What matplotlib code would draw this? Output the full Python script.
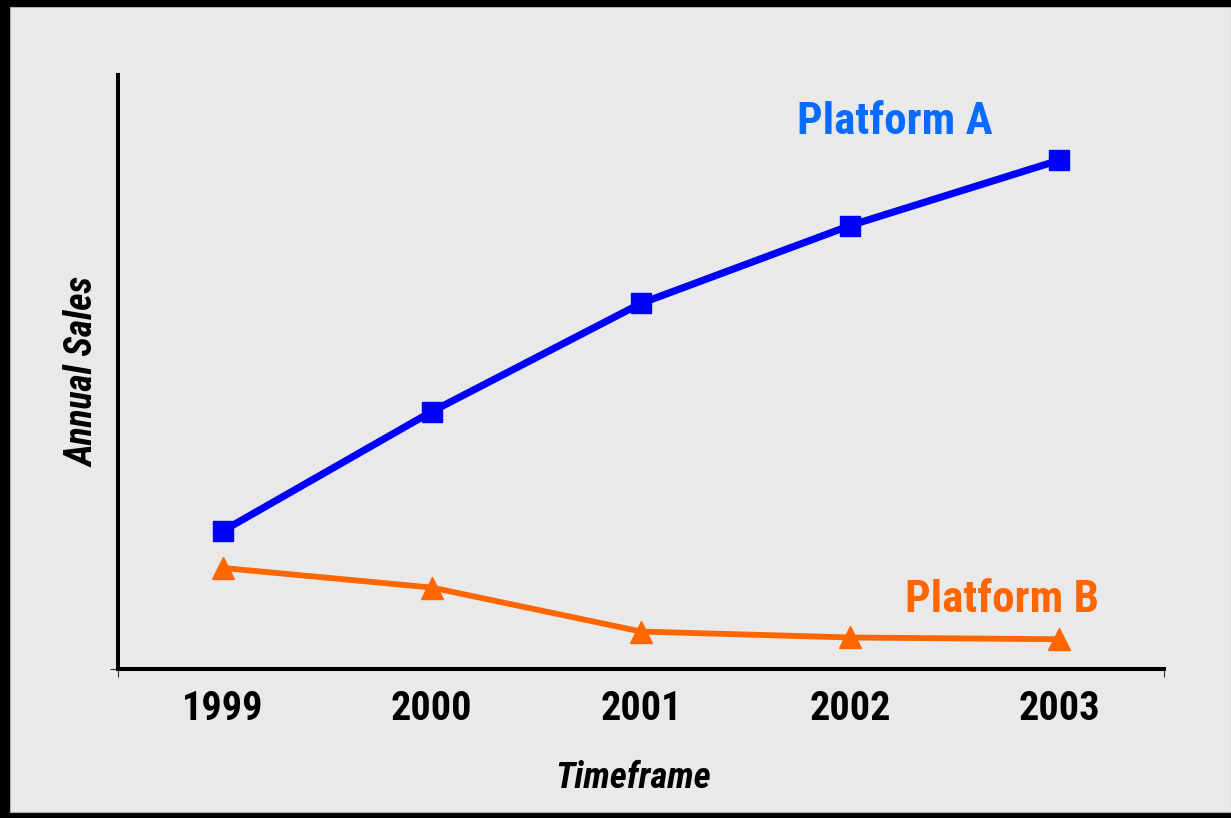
import matplotlib
matplotlib.use("Agg")
import matplotlib.pyplot as plt
from matplotlib.patches import Rectangle
from matplotlib.ticker import FixedLocator

# Annual sales index per year (0-100 scale)
years = ["1999", "2000", "2001", "2002", "2003"]
platform_a = [23.2, 43.3, 61.5, 74.6, 85.6]
platform_b = [17.0, 13.7, 6.3, 5.3, 5.0]

BLUE = "#0000ff"
ORANGE = "#ff6600"
LABEL_BLUE = "#0a6cff"
BG = "#e9e9e9"

plt.rcParams["font.family"] = ["Roboto Condensed", "Liberation Sans", "DejaVu Sans"]

W, H = 1231, 818
fig = plt.figure(figsize=(W / 100, H / 100), dpi=100)
fig.patch.set_facecolor("black")

# grey panel inside the black frame
fig.patches.append(Rectangle((10 / W, 6 / H), 1221 / W, 805 / H,
                             transform=fig.transFigure, facecolor=BG,
                             edgecolor="#b0b0b0", linewidth=0.8, zorder=-10))

ax = fig.add_axes([118 / W, (H - 669) / H, (1164 - 118) / W, (669 - 74.5) / H])
ax.set_facecolor("none")

x = list(range(len(years)))
ax.plot(x, platform_a, color=BLUE, linewidth=5.2, marker="s", markersize=15,
        solid_capstyle="butt", zorder=3)
ax.plot(x, platform_b, color=ORANGE, linewidth=4.2, marker="^", markersize=16,
        solid_capstyle="butt", zorder=3)

ax.set_xlim(-0.5, len(years) - 0.5)
ax.set_ylim(0, 100)

for side in ("top", "right"):
    ax.spines[side].set_visible(False)
for side in ("left", "bottom"):
    ax.spines[side].set_linewidth(2.9)
    ax.spines[side].set_color("black")

ax.set_xticks(x)
ax.set_xticklabels(years, fontsize=29, fontweight="bold")
ax.tick_params(axis="x", which="major", length=0, pad=15)
ax.xaxis.set_minor_locator(FixedLocator([-0.5, len(years) - 0.5]))
ax.tick_params(axis="x", which="minor", length=6, width=0.8, color="#333333")
ax.set_yticks([0])
ax.set_yticklabels([])
ax.tick_params(axis="y", length=6, width=0.8, color="#333333")

ax.set_xlabel("Timeframe", fontsize=26.5, fontweight="bold", fontstyle="italic",
              labelpad=23)
ax.xaxis.label.set_x(0.492)
ax.set_ylabel("Annual Sales", fontsize=27, fontweight="bold", fontstyle="italic",
              labelpad=2)

ax.text(0.649, 0.900, "Platform A", transform=ax.transAxes, color=LABEL_BLUE,
        fontsize=32.5, fontweight="bold", va="baseline", ha="left")
ax.text(0.752, 0.096, "Platform B", transform=ax.transAxes, color=ORANGE,
        fontsize=32.5, fontweight="bold", va="baseline", ha="left")

fig.savefig("out.png", dpi=100, facecolor=fig.get_facecolor())
